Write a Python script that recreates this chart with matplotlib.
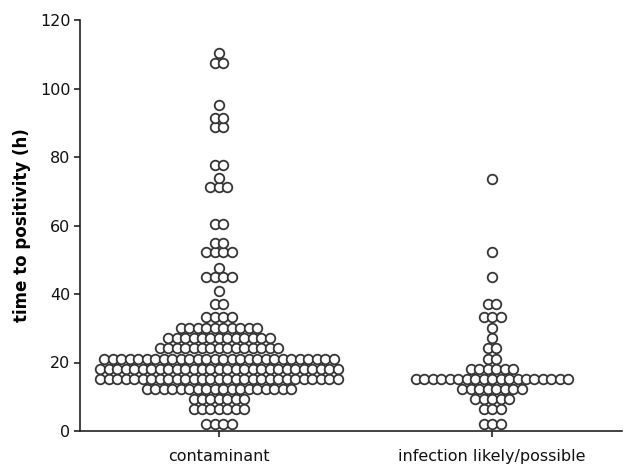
import numpy as np
import matplotlib
matplotlib.use('Agg')
import matplotlib.pyplot as plt

# Dot plot of time to positivity per group: one row of dots per binned value
groups = ['contaminant', 'infection likely/possible']

contaminant_times = [2.0, 6.4, 9.3, 12.3, 15.2, 18.1, 21.0, 24.2, 27.2, 30.1, 33.3,
                     37.1, 41.0, 45.1, 47.7, 52.3, 54.8, 60.3, 71.3, 73.8, 77.7,
                     88.7, 91.3, 95.2, 107.4, 110.3]
contaminant_counts = [4, 7, 7, 18, 29, 29, 28, 15, 13, 10, 4,
                      2, 1, 4, 1, 4, 2, 2, 3, 1, 2,
                      2, 2, 1, 2, 1]

infection_times = [2.0, 6.3, 9.2, 12.2, 15.2, 18.1, 21.0, 24.1, 27.1, 30.2,
                   33.2, 37.1, 45.1, 52.2, 73.6]
infection_counts = [3, 3, 5, 8, 19, 6, 2, 2, 1, 1,
                    3, 2, 1, 1, 1]

yticks = [0, 20, 40, 60, 80, 100, 120]

fig = plt.figure(figsize=(6.24, 4.68), dpi=100)
ax = fig.add_axes([80 / 624, 37 / 468, 542 / 624, 411 / 468])

# x positions: groups at 0 and 1, dots spaced side by side within a row
spacing = 0.0311
for gi, (times, counts) in enumerate([(contaminant_times, contaminant_counts),
                                      (infection_times, infection_counts)]):
    xs, ys = [], []
    for t, n in zip(times, counts):
        offs = (np.arange(n) - (n - 1) / 2) * spacing
        xs.extend(gi + offs)
        ys.extend([t] * n)
    ax.plot(xs, ys, 'o', ms=6.9, mfc='white', mec='#353535', mew=1.3,
            linestyle='none', clip_on=False, zorder=3)

ax.set_xlim(-0.509, 1.476)
ax.set_ylim(0, 120)
ax.set_yticks(yticks)
ax.set_xticks([0, 1])
ax.set_xticklabels(groups)

for side in ['top', 'right']:
    ax.spines[side].set_visible(False)
for side in ['left', 'bottom']:
    ax.spines[side].set_linewidth(1.2)
    ax.spines[side].set_color('#222222')

ax.tick_params(axis='both', direction='out', length=4, width=1.2,
               color='#222222', labelsize=11.5, labelcolor='#111111')
ax.tick_params(axis='y', pad=3)
ax.tick_params(axis='x', pad=9)
ax.set_ylabel('time to positivity (h)', fontsize=12, fontweight='bold',
              labelpad=6)

fig.savefig('out.png', dpi=100)
